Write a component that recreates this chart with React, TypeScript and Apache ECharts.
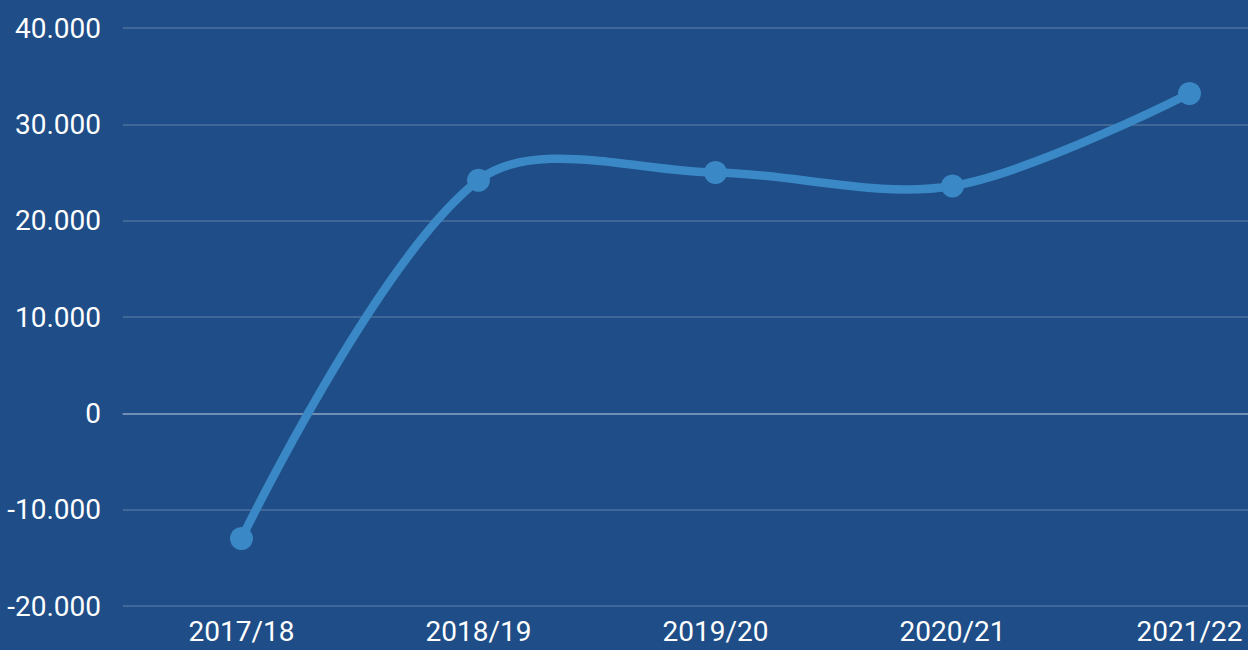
import React, { useEffect, useRef } from "react";
import * as echarts from "echarts";

const categories = ["2017/18", "2018/19", "2019/20", "2020/21", "2021/22"];
const values = [-13000, 24200, 25000, 23600, 33200];
const yTicks = { min: -20000, max: 40000, interval: 10000 };

const LINE_COLOR = "#3a88c5";
const SMOOTH = 0.33;

const fmt = (v: number) => {
  const s = Math.abs(v).toString().replace(/\B(?=(\d{3})+(?!\d))/g, ".");
  return (v < 0 ? "-" : "") + s;
};

// control points: endpoints use the point itself, interior points use
// neighbour direction scaled by segment-length ratio
function controlPoints(pts: number[][], i: number) {
  const cur = pts[i];
  if (i === 0 || i === pts.length - 1) return { prev: cur, next: cur };
  const prev = pts[i - 1];
  const next = pts[i + 1];
  const d01 = Math.hypot(cur[0] - prev[0], cur[1] - prev[1]);
  const d12 = Math.hypot(next[0] - cur[0], next[1] - cur[1]);
  const s01 = d01 / (d01 + d12 || 1);
  const s12 = d12 / (d01 + d12 || 1);
  const vx = next[0] - prev[0];
  const vy = next[1] - prev[1];
  return {
    prev: [cur[0] - SMOOTH * s01 * vx, cur[1] - SMOOTH * s01 * vy],
    next: [cur[0] + SMOOTH * s12 * vx, cur[1] + SMOOTH * s12 * vy],
  };
}

export default function App() {
  const ref = useRef<HTMLDivElement>(null);
  useEffect(() => {
    document.body.style.margin = "0";
    const chart = echarts.init(ref.current!, undefined, { renderer: "svg" });
    chart.setOption({
      animation: false,
      backgroundColor: "#1e4d87",
      grid: { left: 123, right: 0, top: 28, bottom: 44, containLabel: false },
      xAxis: {
        type: "category",
        data: categories,
        boundaryGap: true,
        axisLine: { show: true, lineStyle: { color: "rgba(255,255,255,0.35)", width: 1.5 } },
        axisTick: { show: false },
        axisLabel: { color: "#ffffff", fontSize: 28, fontFamily: "Roboto", margin: 11 },
      },
      yAxis: {
        type: "value",
        min: yTicks.min,
        max: yTicks.max,
        interval: yTicks.interval,
        axisLine: { show: false },
        axisTick: { show: false },
        splitLine: { lineStyle: { color: "rgba(255,255,255,0.2)", width: 1.5 } },
        axisLabel: {
          color: "#ffffff",
          fontSize: 28,
          fontFamily: "Roboto",
          margin: 22,
          formatter: (v: number) => fmt(v),
        },
      },
      series: [
        {
          type: "custom",
          data: values.map((v, i) => [i, v]),
          renderItem: (params: any, api: any) => {
            const i = params.dataIndex;
            if (i >= values.length - 1) return null;
            const pts = values.map((v, j) => api.coord([j, v]));
            const a = controlPoints(pts, i);
            const b = controlPoints(pts, i + 1);
            return {
              type: "bezierCurve",
              shape: {
                x1: pts[i][0],
                y1: pts[i][1],
                cpx1: a.next[0],
                cpy1: a.next[1],
                cpx2: b.prev[0],
                cpy2: b.prev[1],
                x2: pts[i + 1][0],
                y2: pts[i + 1][1],
              },
              style: { stroke: LINE_COLOR, lineWidth: 8.5, fill: "none", lineCap: "round" },
            };
          },
          z: 2,
        },
        {
          type: "scatter",
          data: values,
          symbol: "circle",
          symbolSize: 23,
          itemStyle: { color: LINE_COLOR, opacity: 1 },
          z: 3,
        },
      ],
    });
    return () => chart.dispose();
  }, []);
  return (
    <div style={{ width: 1248, height: 650, overflow: "hidden" }}>
      <div ref={ref} style={{ width: 1308, height: 650 }} />
    </div>
  );
}
